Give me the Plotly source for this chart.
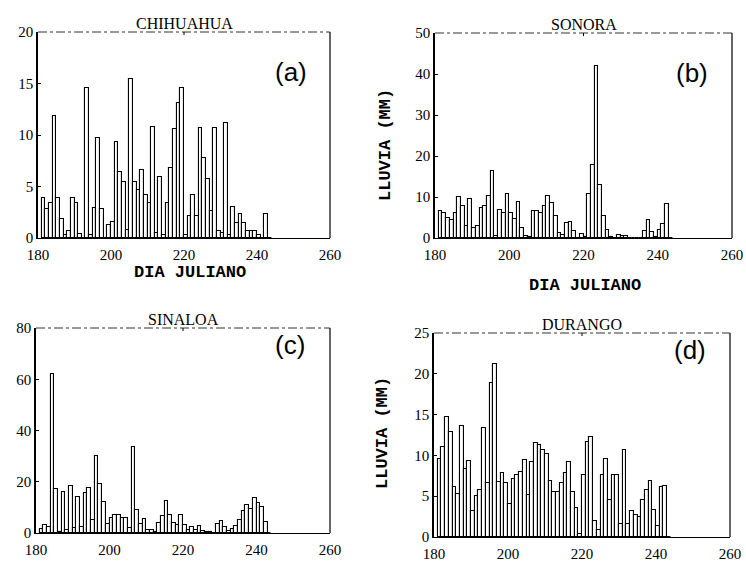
import plotly.graph_objects as go

W, H = 746, 561

DAYS = list(range(181, 244))

CHIHUAHUA = [3.9, 2.8, 3.4, 11.8, 3.9, 1.8, 0.3, 0.7, 3.9, 3.4,
             0.4, 0.0, 14.6, 0.3, 2.9, 9.7, 2.8, 0.0, 1.3, 1.6,
             9.3, 6.4, 5.4, 0.8, 15.4, 5.4, 4.7, 6.6, 4.2, 3.4,
             10.8, 0.5, 5.9, 0.3, 3.4, 6.8, 10.6, 13.1, 14.6, 0.3,
             2.1, 4.2, 2.1, 10.7, 7.8, 5.7, 2.6, 10.7, 0.7, 0.5,
             11.2, 0.3, 3.0, 1.5, 2.3, 1.5, 0.7, 0.7, 0.7, 0.3,
             0.0, 2.3, 0.0]

SONORA = [6.5, 6.1, 4.9, 4.5, 6.1, 10.0, 7.7, 3.0, 9.5, 2.4,
          3.0, 7.3, 7.7, 10.3, 16.3, 0.5, 6.9, 6.1, 10.8, 6.1,
          4.6, 8.9, 2.4, 0.5, 0.3, 6.7, 6.5, 6.1, 7.9, 10.2,
          8.5, 5.3, 1.2, 0.8, 3.7, 3.8, 1.6, 0.0, 1.0, 0.3,
          10.8, 17.9, 41.9, 13.0, 5.3, 2.0, 0.3, 0.0, 0.8, 0.6,
          0.5, 0.0, 0.0, 0.0, 0.0, 1.8, 4.5, 1.5, 0.3, 2.0,
          3.5, 8.2, 0.0]

SINALOA = [1.5, 3.3, 2.5, 62.0, 17.3, 0.5, 16.0, 1.0, 18.5, 2.0,
           14.0, 2.5, 15.6, 17.6, 5.0, 29.9, 19.2, 12.0, 3.5, 5.9,
           7.2, 6.9, 5.9, 5.9, 2.0, 33.4, 9.1, 3.5, 5.5, 1.3,
           1.3, 0.4, 3.9, 6.5, 12.4, 7.2, 3.9, 3.3, 7.2, 3.3,
           1.0, 2.2, 1.3, 2.6, 0.9, 0.5, 0.3, 0.0, 3.5, 4.5,
           2.2, 0.6, 1.5, 2.6, 5.2, 8.5, 11.1, 9.5, 13.7, 11.7,
           10.0, 4.3, 0.0]

DURANGO = [9.5, 11.0, 14.7, 12.9, 6.1, 5.3, 13.6, 8.3, 9.3, 3.2,
           5.0, 5.7, 13.4, 6.6, 18.9, 21.2, 6.8, 7.8, 6.6, 4.1,
           7.1, 7.6, 8.0, 9.4, 5.2, 9.2, 11.5, 11.3, 10.7, 10.2,
           6.9, 5.5, 5.5, 6.6, 7.8, 9.2, 5.5, 3.5, 0.4, 7.6,
           11.6, 12.3, 2.0, 0.8, 7.6, 9.6, 4.5, 7.6, 7.6, 1.6,
           10.7, 1.6, 3.2, 2.7, 2.5, 4.5, 5.8, 6.9, 3.3, 1.3,
           6.1, 6.3, 0.0]

TITLES = ["CHIHUAHUA", "SONORA", "SINALOA", "DURANGO"]
LETTERS = ["(a)", "(b)", "(c)", "(d)"]
YMAX = [20, 50, 80, 25]
YDTICK = [5, 10, 20, 5]
XRANGE = [180, 260]
XTICKS = [180, 200, 220, 240, 260]
SERIES = [CHIHUAHUA, SONORA, SINALOA, DURANGO]

# panel boxes in pixels: (left, right, top, bottom)
BOXES = [(38, 330, 32, 238), (435, 732, 33, 238),
         (36, 330, 328, 533), (434, 730, 333, 537)]
LETTER_Y = [0.805, 0.805, 0.915, 0.915]

SERIF = "Liberation Serif"
MONO = "Liberation Mono"
SANS = "Liberation Sans"

fig = go.Figure()
layout = dict(width=W, height=H, margin=dict(l=0, r=0, t=0, b=0, autoexpand=False),
              paper_bgcolor="white", plot_bgcolor="white", template="none",
              showlegend=False, bargap=0, annotations=[], shapes=[])

for i, (vals, box) in enumerate(zip(SERIES, BOXES)):
    k = "" if i == 0 else str(i + 1)
    l, r, t, b = box
    xd = [l / W, r / W]
    yd = [1 - b / H, 1 - t / H]
    fig.add_trace(go.Bar(x=DAYS, y=vals, width=1, offset=0,
                         marker=dict(color="white", line=dict(color="black", width=1.1)),
                         xaxis="x" + k, yaxis="y" + k))
    layout["xaxis" + k] = dict(domain=xd, range=XRANGE, tickvals=XTICKS,
                               showline=True, linecolor="black", linewidth=1.2,
                               showgrid=False, zeroline=False, ticks="",
                               automargin=False, ticklabelstandoff=3,
                               tickfont=dict(family=SERIF, size=15, color="black"),
                               anchor="y" + k)
    layout["yaxis" + k] = dict(domain=yd, range=[0, YMAX[i]], dtick=YDTICK[i],
                               showline=True, linecolor="black", linewidth=1.5,
                               showgrid=False, zeroline=False, ticks="inside",
                               ticklen=3, tickcolor="black", automargin=False,
                               tickfont=dict(family=SERIF, size=15, color="black"),
                               anchor="x" + k)
    # top (dashed) and right border
    layout["shapes"].append(dict(type="line", xref="x" + k + " domain", yref="y" + k + " domain",
                                 x0=0, x1=1, y0=1, y1=1,
                                 line=dict(color="#333", width=1, dash="dashdot")))
    layout["shapes"].append(dict(type="line", xref="x" + k + " domain", yref="y" + k + " domain",
                                 x0=1, x1=1, y0=0, y1=1,
                                 line=dict(color="black", width=1.2)))
    layout["shapes"].append(dict(type="line", xref="x" + k + " domain", yref="y" + k + " domain",
                                 x0=0.5, x1=0.5, y0=1, y1=0.985,
                                 line=dict(color="black", width=1)))
    layout["annotations"].append(dict(text=TITLES[i], xref="x" + k + " domain", yref="y" + k + " domain",
                                      x=0.5, y=1, yanchor="bottom", yshift=-2, showarrow=False,
                                      font=dict(family=SERIF, size=16, color="black")))
    layout["annotations"].append(dict(text=LETTERS[i], xref="x" + k + " domain", yref="y" + k + " domain",
                                      x=0.865, y=LETTER_Y[i], xanchor="center", yanchor="middle",
                                      showarrow=False,
                                      font=dict(family=SANS, size=26, color="black")))

lab = dict(xref="paper", yref="paper", xanchor="center", yanchor="middle", showarrow=False,
           font=dict(family=MONO, size=17, color="black"))
layout["annotations"] += [
    dict(text="<b>DIA JULIANO</b>", x=190 / W, y=1 - 272 / H, **lab),
    dict(text="<b>DIA JULIANO</b>", x=585 / W, y=1 - 285 / H, **lab),
    dict(text="<b>LLUVIA (MM)</b>", x=385 / W, y=1 - 145 / H, textangle=-90, **lab),
    dict(text="<b>LLUVIA (MM)</b>", x=382 / W, y=1 - 433 / H, textangle=-90, **lab),
]

fig.update_layout(**layout)
fig.write_html("out.html", config={"displayModeBar": False},
               post_script="document.body.style.margin='0';")
